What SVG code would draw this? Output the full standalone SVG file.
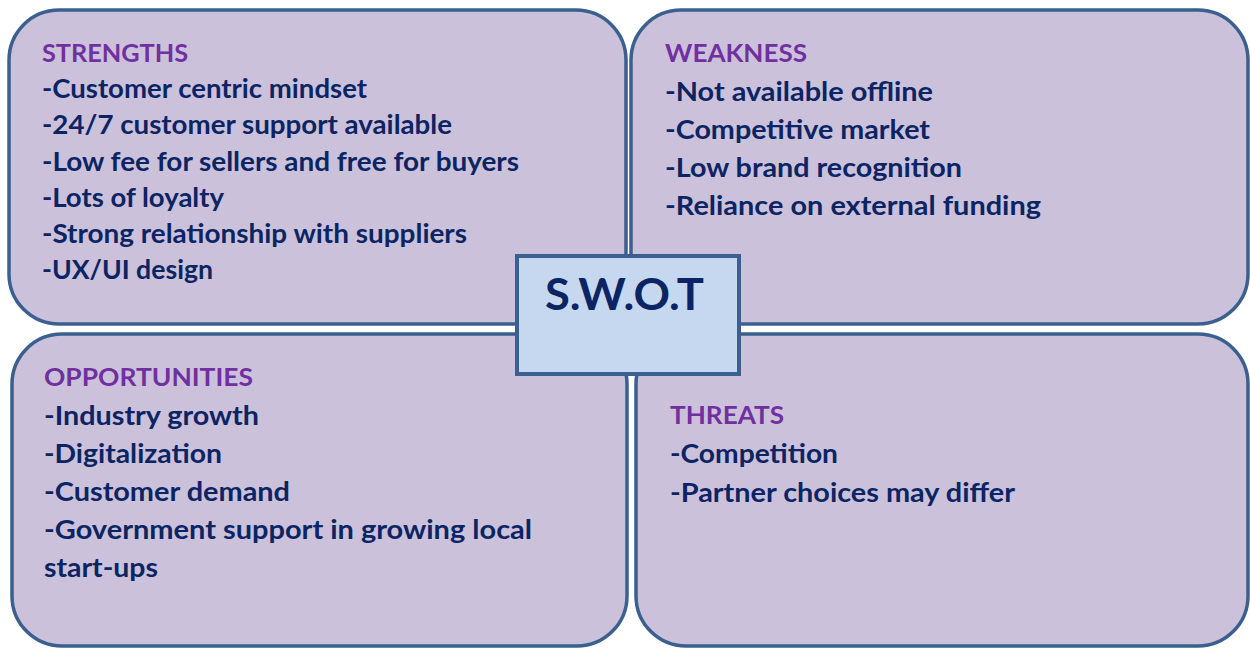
<svg xmlns="http://www.w3.org/2000/svg" width="1250" height="649" viewBox="0 0 1250 649">
<style>
.box{fill:#ccc1da;stroke:#3b6090;stroke-width:3.5}
.center{fill:#c6d8ef;stroke:#3b6090;stroke-width:4}
.h{font-family:Lato,"Open Sans","Liberation Sans",sans-serif;font-weight:700;font-size:25px;fill:#7030a0}
.t{font-family:Lato,"Open Sans","Liberation Sans",sans-serif;font-weight:700;font-size:26px;fill:#0b2463}
.c{font-family:Lato,"Open Sans","Liberation Sans",sans-serif;font-weight:700;font-size:44px;fill:#0b2463}
</style>
<rect width="1250" height="649" fill="#ffffff"/>
<g id="connectors"></g>
<g id="strengths">
<rect class="box" x="9" y="10" width="617" height="314" rx="50" ry="50"/>
<text class="h" x="42" y="62" textLength="146" lengthAdjust="spacingAndGlyphs">STRENGTHS</text>
<text class="t" x="42" y="98" textLength="325" lengthAdjust="spacingAndGlyphs">-Customer centric mindset</text>
<text class="t" x="42" y="134" textLength="410" lengthAdjust="spacingAndGlyphs">-24/7 customer support available</text>
<text class="t" x="42" y="171" textLength="477" lengthAdjust="spacingAndGlyphs">-Low fee for sellers and free for buyers</text>
<text class="t" x="42" y="207" textLength="182" lengthAdjust="spacingAndGlyphs">-Lots of loyalty</text>
<text class="t" x="42" y="243" textLength="425" lengthAdjust="spacingAndGlyphs">-Strong relationship with suppliers</text>
<text class="t" x="42" y="279" textLength="171" lengthAdjust="spacingAndGlyphs">-UX/UI design</text>
</g>
<g id="weakness">
<rect class="box" x="631" y="10" width="617" height="314" rx="50" ry="50"/>
<text class="h" x="665" y="62" textLength="142" lengthAdjust="spacingAndGlyphs">WEAKNESS</text>
<text class="t" x="665" y="101" textLength="268" lengthAdjust="spacingAndGlyphs">-Not available offline</text>
<text class="t" x="665" y="139" textLength="265" lengthAdjust="spacingAndGlyphs">-Competitive market</text>
<text class="t" x="665" y="177" textLength="297" lengthAdjust="spacingAndGlyphs">-Low brand recognition</text>
<text class="t" x="665" y="215" textLength="376" lengthAdjust="spacingAndGlyphs">-Reliance on external funding</text>
</g>
<g id="opportunities">
<rect class="box" x="12" y="334" width="615" height="312" rx="50" ry="50"/>
<text class="h" x="44" y="386" textLength="209" lengthAdjust="spacingAndGlyphs">OPPORTUNITIES</text>
<text class="t" x="44" y="425" textLength="215" lengthAdjust="spacingAndGlyphs">-Industry growth</text>
<text class="t" x="44" y="463" textLength="178" lengthAdjust="spacingAndGlyphs">-Digitalization</text>
<text class="t" x="44" y="501" textLength="246" lengthAdjust="spacingAndGlyphs">-Customer demand</text>
<text class="t" x="44" y="539" textLength="488" lengthAdjust="spacingAndGlyphs">-Government support in growing local</text>
<text class="t" x="44" y="577" textLength="114" lengthAdjust="spacingAndGlyphs">start-ups</text>
</g>
<g id="threats">
<rect class="box" x="636" y="334" width="612" height="312" rx="50" ry="50"/>
<text class="h" x="670" y="424" textLength="114" lengthAdjust="spacingAndGlyphs">THREATS</text>
<text class="t" x="670" y="463" textLength="168" lengthAdjust="spacingAndGlyphs">-Competition</text>
<text class="t" x="670" y="502" textLength="345" lengthAdjust="spacingAndGlyphs">-Partner choices may differ</text>
</g>
<g id="swot">
<rect class="center" x="517" y="256" width="222" height="118"/>
<text class="c" x="545" y="310" textLength="159" lengthAdjust="spacingAndGlyphs">S.W.O.T</text>
</g>
</svg>
